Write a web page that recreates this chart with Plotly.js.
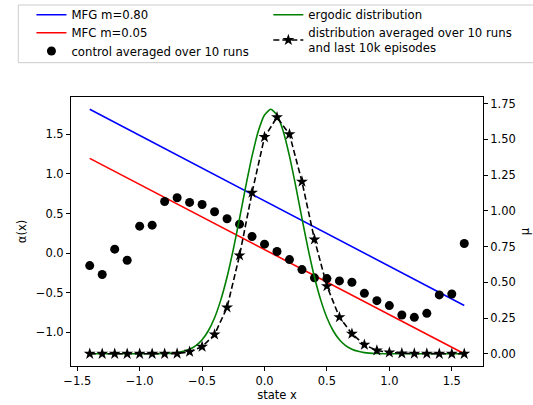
<!DOCTYPE html>
<html>
<head>
<meta charset="utf-8">
<script src="https://cdn.plot.ly/plotly-3.0.1.min.js"></script>
<style>html,body{margin:0;padding:0;background:#fff;}#chart{width:533px;height:405px;}</style>
</head>
<body>
<div id="chart"></div>
<script>
// line endpoints
const lineX = [-1.4, 1.6];
const mfgAlpha = [1.815, -0.66];
const mfcAlpha = [1.196, -1.27];

// control averaged over 10 runs
const stateX = [-1.4,-1.3,-1.2,-1.1,-1.0,-0.9,-0.8,-0.7,-0.6,-0.5,-0.4,-0.3,-0.2,-0.1,0.0,0.1,0.2,0.3,0.4,0.5,0.6,0.7,0.8,0.9,1.0,1.1,1.2,1.3,1.4,1.5,1.6];
const controlAlpha = [-0.157,-0.27,0.05,-0.09,0.34,0.353,0.652,0.699,0.64,0.614,0.522,0.434,0.366,0.21,0.113,0.02,-0.081,-0.208,-0.312,-0.321,-0.35,-0.368,-0.507,-0.6,-0.662,-0.78,-0.81,-0.76,-0.527,-0.515,0.121];

// distribution averaged over 10 runs and last 10k episodes
const distMu = [0,0,0,0,0,0,0,0.001,0.014,0.049,0.135,0.324,0.688,1.127,1.516,1.654,1.535,1.204,0.80,0.473,0.256,0.14,0.063,0.023,0.009,0.003,0.001,0.001,0,0,0];

// ergodic distribution
const ergX = [-1.4,-1.2,-1.0,-0.9,-0.8,-0.7,-0.65,-0.6,-0.55,-0.5,-0.45,-0.4,-0.35,-0.3,-0.25,-0.2,-0.15,-0.1,-0.05,0.0,0.05,0.1,0.15,0.2,0.25,0.3,0.35,0.4,0.45,0.5,0.55,0.6,0.65,0.7,0.75,0.8,0.9,1.0,1.2,1.4,1.6];
const ergMu = [0,0,0,0.0005,0.002,0.008,0.017,0.032,0.057,0.098,0.161,0.252,0.377,0.537,0.730,0.947,1.172,1.382,1.556,1.670,1.71,1.670,1.556,1.382,1.172,0.947,0.730,0.537,0.377,0.252,0.161,0.098,0.057,0.032,0.017,0.008,0.002,0.0005,0,0,0];

const xTicks = [-1.5,-1.0,-0.5,0.0,0.5,1.0,1.5];
const yTicks = [-1.0,-0.5,0.0,0.5,1.0,1.5];
const y2Ticks = [0,0.25,0.5,0.75,1.0,1.25,1.5,1.75];

const F = 'DejaVu Sans, sans-serif';
const FS = 11.7;
const traces = [
  {x: lineX, y: mfgAlpha, mode: 'lines', name: 'MFG m=0.80', line: {color: '#0000ff', width: 1.6}, legend: 'legend'},
  {x: lineX, y: mfcAlpha, mode: 'lines', name: 'MFC m=0.05', line: {color: '#ff0000', width: 1.6}, legend: 'legend2'},
  {x: stateX, y: controlAlpha, mode: 'markers', name: 'control averaged over 10 runs', marker: {color: '#000', size: 9}, legend: 'legend3'},
  {x: ergX, y: ergMu, yaxis: 'y2', mode: 'lines', name: 'ergodic distribution', line: {color: '#008000', width: 1.6, shape: 'spline', smoothing: 0.6}, legend: 'legend4'},
  {x: stateX, y: distMu, yaxis: 'y2', mode: 'lines+markers', name: 'distribution averaged over 10 runs<br>and last 10k episodes', line: {color: '#000', width: 1.6, dash: '6px,3px'}, marker: {symbol: 'star', size: 9, color: '#000'}, legend: 'legend5'}
];

const axisCommon = {showgrid: false, zeroline: false, showline: true, linecolor: '#000', linewidth: 1, ticks: 'outside', ticklen: 4, tickcolor: '#000', tickfont: {family: F, size: 11.5, color: '#000'}};
function leg(x, y) {
  return {x: x, y: y, xanchor: 'left', yanchor: 'top', bgcolor: 'rgba(0,0,0,0)', borderwidth: 0, font: {family: F, size: FS, color: '#000'}, tracegroupgap: 0, itemwidth: 30};
}
const c1 = -0.096, c2 = 0.479;
const layout = {
  width: 533, height: 405,
  margin: {l: 71, r: 50, t: 97, b: 39, autoexpand: false},
  paper_bgcolor: '#fff', plot_bgcolor: '#fff',
  font: {family: F, color: '#000'},
  showlegend: true,
  xaxis: Object.assign({}, axisCommon, {range: [-1.55, 1.75], tickvals: xTicks, tickformat: '.1f', mirror: true, title: {text: 'state x', font: {family: F, size: 11.5}, standoff: 4}}),
  yaxis: Object.assign({}, axisCommon, {range: [-1.424, 1.97], tickvals: yTicks, tickformat: '.1f', title: {text: 'α(x)', font: {family: F, size: 11.5}, standoff: 6}}),
  yaxis2: Object.assign({}, axisCommon, {overlaying: 'y', side: 'right', range: [-0.0855, 1.796], tickvals: y2Ticks, tickformat: '.2f', title: {text: 'μ', font: {family: F, size: 11.5}, standoff: 6}}),
  legend: leg(c1, 1.3599),
  legend2: leg(c1, 1.2929),
  legend3: leg(c1, 1.2249),
  legend4: leg(c2, 1.3599),
  legend5: leg(c2, 1.2926),
  shapes: [{type: 'rect', xref: 'paper', yref: 'paper', x0: -0.128, x1: 1.2, y0: 1.1276, y1: 1.342, line: {color: '#cccccc', width: 1}, fillcolor: 'rgba(255,255,255,0)', layer: 'below'}]
};
Plotly.newPlot('chart', traces, layout, {displayModeBar: false, staticPlot: true});
</script>
</body>
</html>
